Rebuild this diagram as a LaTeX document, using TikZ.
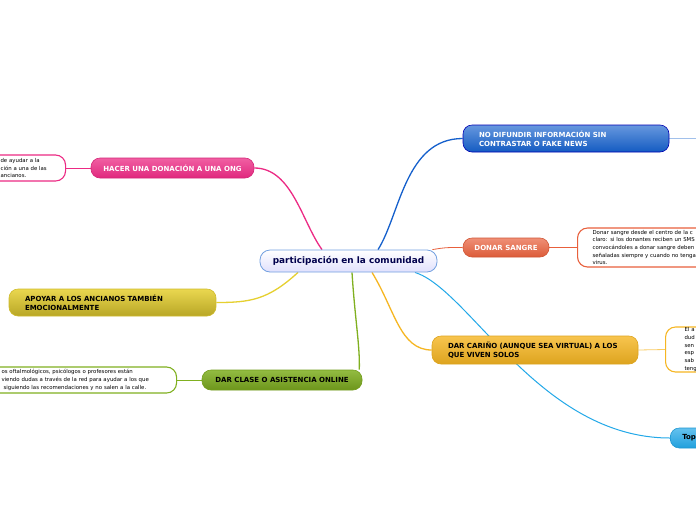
\documentclass[tikz,border=0pt]{standalone}
\usepackage{fontspec}
\setmainfont{DejaVu Sans}
\pgfdeclarelayer{background}
\pgfsetlayers{background,main}
\begin{document}
\begin{tikzpicture}[x=1pt,y=-1pt,
  branch/.style={rounded corners=9pt, draw, line width=0.6pt, inner ysep=0pt, font=\bfseries\fontsize{7}{9}\selectfont},
  textbox/.style={rounded corners=10pt, draw, line width=1.1pt, fill=white, inner ysep=0pt, inner xsep=12pt, font=\fontsize{5.4}{7.7}\selectfont, align=left},
  conn/.style={line width=1.3pt},
  thin/.style={line width=0.8pt}]
\definecolor{cpink}{HTML}{EC2A84}
\definecolor{cblue}{HTML}{1560CC}
\definecolor{cred}{HTML}{E8603C}
\definecolor{cyel}{HTML}{E6D030}
\definecolor{cgreen}{HTML}{80B020}
\definecolor{corange}{HTML}{F6B622}
\definecolor{clblue}{HTML}{22A8E8}
\useasboundingbox (0,0) rectangle (696,520);
\clip (0,0) rectangle (696,520);

% nodes
\node[rounded corners=10pt, draw=cblue!60, line width=0.8pt, top color=white, bottom color=black!8!blue!12, minimum width=177pt, minimum height=22pt, inner sep=0pt, font=\bfseries\fontsize{8.9}{10}\selectfont, text=blue!30!black] (c) at (348.5,261) {participación en la comunidad};

\node[branch, draw=blue!70!black, top color=cblue!65, bottom color=cblue!95!black, text=white, text width=174pt, inner xsep=16pt, minimum height=27pt, align=left] (nd) at (566,138.5) {NO DIFUNDIR INFORMACIÓN SIN\\CONTRASTAR O FAKE NEWS};
\coordinate (ndend) at (700,138.5);

\node[branch, draw=cred!90!black, top color=cred!70, bottom color=cred!95!black, text=white, minimum width=86pt, minimum height=19pt, inner xsep=4pt] (ds) at (506,247.5) {DONAR SANGRE};
\node[textbox, draw=cred, text width=150pt, inner xsep=15pt, minimum height=39pt, anchor=west] (dst) at (577,247.5) {Donar sangre desde el centro de la c\\claro: si los donantes reciben un SMS\\convocándoles a donar sangre deben\\señaladas siempre y cuando no tenga\\virus.};

\node[branch, draw=corange!90!black, top color=corange!80, bottom color=corange!90!black, text=black, text width=174pt, inner xsep=16pt, minimum height=28pt, align=left] (dc) at (535,350) {DAR CARIÑO (AUNQUE SEA VIRTUAL) A LOS\\QUE VIVEN SOLOS};
\node[textbox, draw=corange, text width=60pt, inner xsep=19pt, minimum height=45pt, anchor=west] (dct) at (665,349.5) {El a\\dud\\sen\\esp\\sab\\teng};

\node[branch, draw=clblue!90!black, top color=clblue!70, bottom color=clblue!95!black, text=black, text width=60pt, inner xsep=12pt, minimum height=20pt, align=left, anchor=west] (top) at (670,438) {Top};

\node[branch, draw=cpink!90!black, top color=cpink!75, bottom color=cpink!95!black, text=white, minimum width=163pt, minimum height=20pt, inner xsep=4pt] (hd) at (172.5,168) {HACER UNA DONACIÓN A UNA ONG};
\node[textbox, draw=cpink, text width=53pt, minimum height=26pt, anchor=west] (hdt) at (-12,168) {de ayudar a la\\ción a una de las\\ancianos.};

\node[branch, draw=cyel!90!black, top color=cyel!85, bottom color=cyel!80!black, text=black, text width=175pt, inner xsep=16pt, minimum height=27pt, align=left] (ap) at (112.5,302.5) {APOYAR A LOS ANCIANOS TAMBIÉN\\EMOCIONALMENTE};

\node[branch, draw=cgreen!90!black, top color=cgreen!85, bottom color=cgreen!85!black, text=black, minimum width=160pt, minimum height=20pt, inner xsep=4pt] (cl) at (282,380) {DAR CLASE O ASISTENCIA ONLINE};
\node[textbox, draw=cgreen, text width=163pt, minimum height=26pt, anchor=west] (clt) at (-11,380) {os oftalmológicos, psicólogos o profesores están\\viendo dudas a través de la red para ayudar a los que\\\hspace*{2pt}siguiendo las recomendaciones y no salen a la calle.};

% connectors
\begin{pgfonlayer}{background}
\fill[white] (0,0) rectangle (696,520);
\draw[conn, cpink] ([xshift=-26.5pt]c.north) .. controls (302,222) and (292,168) .. (hd.east);
\draw[conn, cblue] ([xshift=29.5pt]c.north) .. controls (400,215) and (405,138.5) .. (nd.west);
\draw[thin, cred] ([xshift=-5pt]c.north east) .. controls (445,247.5) .. (ds.west);
\draw[conn, cyel] ([xshift=-50.5pt]c.south) .. controls (268,300) and (250,302.5) .. (ap.east);
\draw[conn, cgreen] ([xshift=3.5pt]c.south) .. controls (355,320) and (360,345) .. ([xshift=-3pt]cl.north east);
\draw[conn, corange] ([xshift=23.5pt]c.south) .. controls (395,310) and (400,350) .. (dc.west);
\draw[conn, clblue, line width=1pt] ([xshift=66.5pt]c.south) .. controls (470,290) and (540,438) .. (top.west);
\draw[thin, cblue!40] (nd.east) -- (ndend);
\draw[thin, cred] (ds.east) -- (dst.west);
\draw[thin, corange!70] (dc.east) -- (dct.west);
\draw[thin, cpink] (hd.west) -- (hdt.east);
\draw[thin, cgreen] (cl.west) -- (clt.east);
\end{pgfonlayer}
\end{tikzpicture}
\end{document}
